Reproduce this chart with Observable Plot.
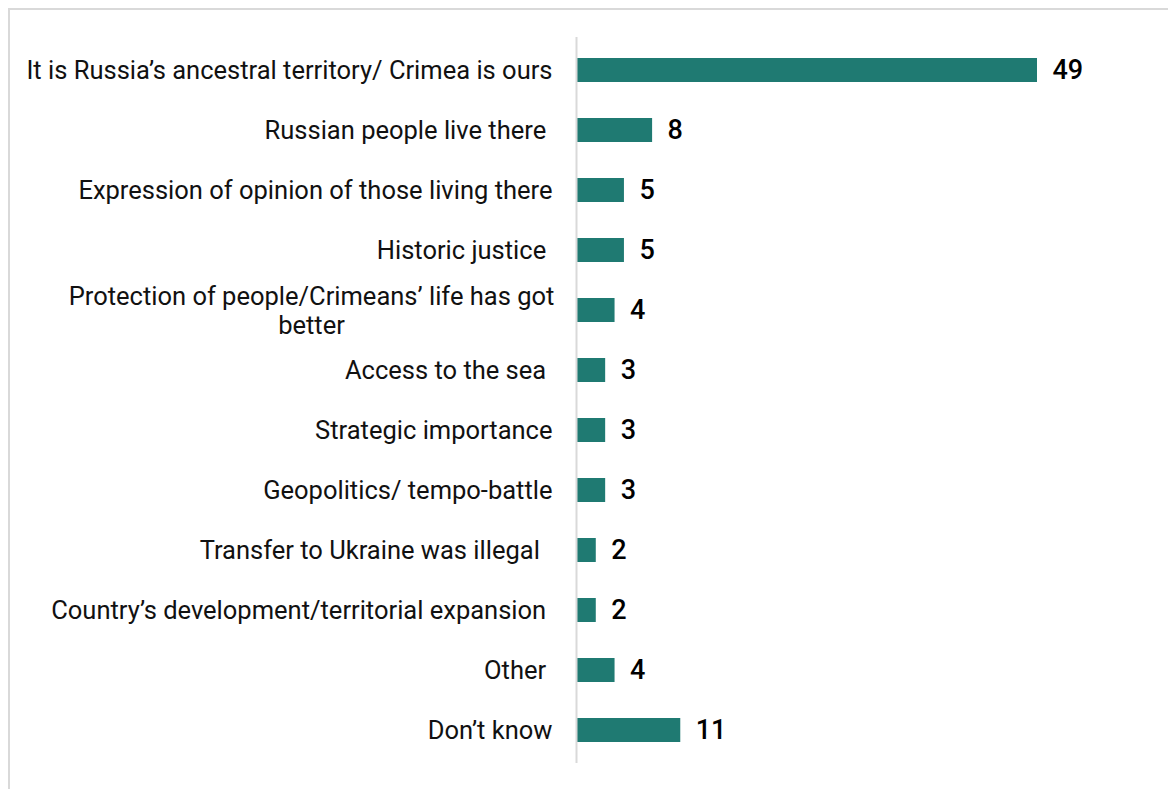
<!DOCTYPE html>
<html>
<head>
<meta charset="utf-8">
<script src="https://cdn.jsdelivr.net/npm/d3@7"></script>
<script src="https://cdn.jsdelivr.net/npm/@observablehq/plot@0.6"></script>
<style>
  html, body { margin: 0; padding: 0; background: #fff; }
  #frame { position: absolute; left: 8px; top: 8px; width: 1200px; height: 800px;
           border-left: 2px solid #d9d9d9; border-top: 2px solid #d9d9d9; }
  #chart { position: absolute; left: 0; top: 0; }
</style>
</head>
<body>
<div id="frame"></div>
<div id="chart"></div>
<script>
const categories = [
  "It is Russia\u2019s ancestral territory/ Crimea is ours",
  "Russian people live there\u00a0",
  "Expression of opinion of those living there",
  "Historic justice\u00a0",
  "Protection of people/Crimeans\u2019 life has got\nbetter",
  "Access to the sea\u00a0",
  "Strategic importance",
  "Geopolitics/ tempo-battle",
  "Transfer to Ukraine was illegal\u00a0\u00a0",
  "Country\u2019s development/territorial expansion\u00a0",
  "Other\u00a0",
  "Don\u2019t know"
];
const values = [49, 8, 5, 5, 4, 3, 3, 3, 2, 2, 4, 11];

const data = categories.map((c, i) => ({category: c, value: values[i], wrapped: c.includes("\n")}));

const chart = Plot.plot({
  width: 1168,
  height: 789,
  marginTop: 37,
  marginBottom: 26,
  marginLeft: 577,
  marginRight: 131,
  style: {fontFamily: "Roboto, sans-serif", background: "transparent"},
  x: {domain: [0, 49], axis: null},
  y: {domain: categories, axis: null, paddingInner: 0.6, paddingOuter: 0.3},
  marks: [
    Plot.barX(data, {y: "category", x: "value", fill: "#1f7a72"}),
    Plot.ruleX([0], {stroke: "#d9d9d9", strokeWidth: 2, dx: -1}),
    Plot.text(data.filter(d => !d.wrapped), {
      y: "category", x: 0, text: "category", textAnchor: "end", dx: -25,
      fontSize: 25.5, fill: "#111"
    }),
    Plot.text(data.filter(d => d.wrapped), {
      y: "category", x: 0, text: "category", textAnchor: "middle", dx: -266,
      fontSize: 25.5, fill: "#111", lineHeight: 1.1
    }),
    Plot.text(data, {
      y: "category", x: "value", text: d => String(d.value), textAnchor: "start", dx: 15,
      fontSize: 27, fontWeight: 500, fill: "#000"
    })
  ]
});
document.getElementById("chart").appendChild(chart);
</script>
</body>
</html>
